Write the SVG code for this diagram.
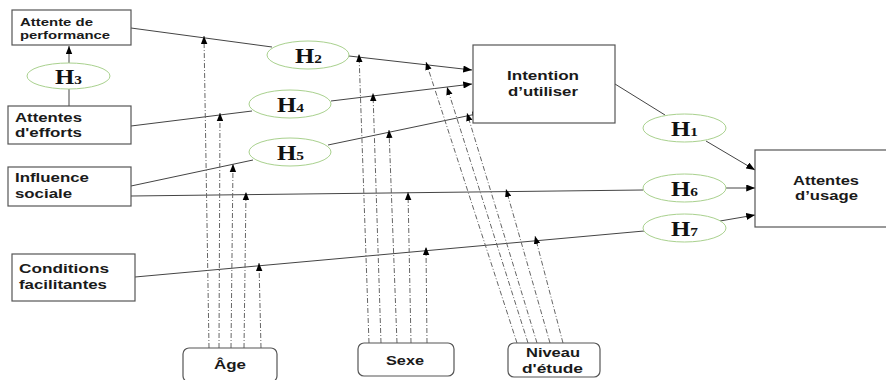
<svg xmlns="http://www.w3.org/2000/svg" width="886" height="380" viewBox="0 0 886 380">
<defs>
<marker id="ah" viewBox="0 0 10 8" refX="10" refY="4" markerWidth="9" markerHeight="7" markerUnits="userSpaceOnUse" orient="auto">
<path d="M0,0 L10,4 L0,8 z" fill="#000"/>
</marker>
<marker id="am" viewBox="0 0 10 8" refX="10" refY="4" markerWidth="8" markerHeight="7" markerUnits="userSpaceOnUse" orient="auto">
<path d="M0,0 L10,4 L0,8 z" fill="#000"/>
</marker>
</defs>
<style>
.box{fill:#fff;stroke:#555;stroke-width:1.2}
.hyp{fill:#fff;stroke:#a9d18e;stroke-width:1}
.lbl{font-family:"Liberation Sans",Arial,sans-serif;font-weight:bold;font-size:12.5px;fill:#1a1a1a}
.sm{font-size:11px}
.h{font-family:"Liberation Serif","Times New Roman",serif;font-weight:bold;font-size:21px;fill:#111}
.hs{font-size:13px}
.ln{fill:none;stroke:#444;stroke-width:1}
.mod{fill:none;stroke:#666;stroke-width:1;stroke-dasharray:5,2,1,2}
</style>
<rect width="886" height="380" fill="#fff"/>

<g id="connectors">
<line class="ln" x1="131" y1="28" x2="272" y2="47"/>
<line class="ln" x1="349" y1="56" x2="472" y2="70" marker-end="url(#ah)"/>
<line class="ln" x1="131" y1="126" x2="252" y2="111"/>
<line class="ln" x1="331" y1="101" x2="472" y2="84" marker-end="url(#ah)"/>
<line class="ln" x1="131" y1="186" x2="253" y2="160"/>
<line class="ln" x1="328" y1="145" x2="481" y2="113" marker-end="url(#ah)"/>
<line class="ln" x1="131" y1="196" x2="643" y2="190"/>
<line class="ln" x1="726" y1="188" x2="755" y2="188" marker-end="url(#ah)"/>
<line class="ln" x1="135" y1="277" x2="644" y2="231"/>
<line class="ln" x1="720" y1="221" x2="755" y2="215" marker-end="url(#ah)"/>
<line class="ln" x1="615" y1="84" x2="665" y2="115"/>
<line class="ln" x1="706" y1="141" x2="755" y2="170" marker-end="url(#ah)"/>
<line class="ln" x1="69" y1="106" x2="69" y2="89"/>
<line class="ln" x1="69" y1="63" x2="69" y2="46" marker-end="url(#am)"/>

<line class="mod" x1="209" y1="348" x2="204" y2="36" marker-end="url(#am)"/>
<line class="mod" x1="219" y1="348" x2="220" y2="113" marker-end="url(#am)"/>
<line class="mod" x1="231" y1="348" x2="233" y2="164" marker-end="url(#am)"/>
<line class="mod" x1="244" y1="348" x2="246" y2="192" marker-end="url(#am)"/>
<line class="mod" x1="261" y1="348" x2="259" y2="263" marker-end="url(#am)"/>

<line class="mod" x1="369" y1="343" x2="359" y2="54" marker-end="url(#am)"/>
<line class="mod" x1="381" y1="343" x2="373" y2="93" marker-end="url(#am)"/>
<line class="mod" x1="397" y1="343" x2="389" y2="130" marker-end="url(#am)"/>
<line class="mod" x1="411" y1="343" x2="408" y2="192" marker-end="url(#am)"/>
<line class="mod" x1="427" y1="343" x2="426" y2="247" marker-end="url(#am)"/>

<line class="mod" x1="517" y1="343" x2="426" y2="62" marker-end="url(#am)"/>
<line class="mod" x1="528" y1="343" x2="447" y2="87" marker-end="url(#am)"/>
<line class="mod" x1="537" y1="343" x2="467" y2="113" marker-end="url(#am)"/>
<line class="mod" x1="550" y1="343" x2="506" y2="189" marker-end="url(#am)"/>
<line class="mod" x1="563" y1="343" x2="535" y2="236" marker-end="url(#am)"/>
</g>

<g id="n-performance">
<rect class="box" x="12" y="10" width="119" height="35"/>
<text class="lbl sm" x="20" y="26" textLength="73" lengthAdjust="spacingAndGlyphs">Attente de</text>
<text class="lbl sm" x="20" y="39" textLength="90" lengthAdjust="spacingAndGlyphs">performance</text>
</g>
<g id="n-efforts">
<rect class="box" x="8" y="106" width="123" height="38"/>
<text class="lbl" x="15" y="122" textLength="67" lengthAdjust="spacingAndGlyphs">Attentes</text>
<text class="lbl" x="15" y="137" textLength="67" lengthAdjust="spacingAndGlyphs">d'efforts</text>
</g>
<g id="n-influence">
<rect class="box" x="8" y="167" width="123" height="39"/>
<text class="lbl" x="15" y="182" textLength="74" lengthAdjust="spacingAndGlyphs">Influence</text>
<text class="lbl" x="15" y="198" textLength="57" lengthAdjust="spacingAndGlyphs">sociale</text>
</g>
<g id="n-conditions">
<rect class="box" x="12" y="254" width="123" height="47"/>
<text class="lbl" x="19" y="273" textLength="90" lengthAdjust="spacingAndGlyphs">Conditions</text>
<text class="lbl" x="19" y="289" textLength="88" lengthAdjust="spacingAndGlyphs">facilitantes</text>
</g>
<g id="n-intention">
<rect class="box" x="473" y="45" width="142" height="78"/>
<text class="lbl" x="507" y="80" textLength="72" lengthAdjust="spacingAndGlyphs">Intention</text>
<text class="lbl" x="508" y="96" textLength="70" lengthAdjust="spacingAndGlyphs">d’utiliser</text>
</g>
<g id="n-usage">
<rect class="box" x="755" y="150" width="135" height="77"/>
<text class="lbl" x="793" y="185" textLength="66" lengthAdjust="spacingAndGlyphs">Attentes</text>
<text class="lbl" x="795" y="200" textLength="63" lengthAdjust="spacingAndGlyphs">d’usage</text>
</g>
<g id="n-age">
<rect class="box" x="183" y="348" width="94" height="34" rx="6"/>
<text class="lbl" x="214" y="369" textLength="32" lengthAdjust="spacingAndGlyphs">Âge</text>
</g>
<g id="n-sexe">
<rect class="box" x="358" y="343" width="96" height="33" rx="6"/>
<text class="lbl" x="386" y="365" textLength="38" lengthAdjust="spacingAndGlyphs">Sexe</text>
</g>
<g id="n-niveau">
<rect class="box" x="508" y="343" width="92" height="34" rx="6"/>
<text class="lbl" x="526" y="357" textLength="54" lengthAdjust="spacingAndGlyphs">Niveau</text>
<text class="lbl" x="522" y="373" textLength="61" lengthAdjust="spacingAndGlyphs">d'étude</text>
</g>

<g id="h3"><ellipse class="hyp" cx="68.5" cy="76" rx="41.5" ry="13"/><text class="h" x="55" y="84" textLength="27" lengthAdjust="spacingAndGlyphs">H<tspan class="hs">3</tspan></text></g>
<g id="h2"><ellipse class="hyp" cx="308" cy="55" rx="41" ry="14"/><text class="h" x="295" y="63" textLength="27" lengthAdjust="spacingAndGlyphs">H<tspan class="hs">2</tspan></text></g>
<g id="h4"><ellipse class="hyp" cx="290" cy="104" rx="41" ry="14"/><text class="h" x="277" y="112" textLength="27" lengthAdjust="spacingAndGlyphs">H<tspan class="hs">4</tspan></text></g>
<g id="h5"><ellipse class="hyp" cx="290" cy="152" rx="41" ry="14"/><text class="h" x="277" y="160" textLength="27" lengthAdjust="spacingAndGlyphs">H<tspan class="hs">5</tspan></text></g>
<g id="h1"><ellipse class="hyp" cx="684.5" cy="128" rx="41.5" ry="14"/><text class="h" x="671" y="136" textLength="27" lengthAdjust="spacingAndGlyphs">H<tspan class="hs">1</tspan></text></g>
<g id="h6"><ellipse class="hyp" cx="684.5" cy="188" rx="41.5" ry="14"/><text class="h" x="671" y="196" textLength="27" lengthAdjust="spacingAndGlyphs">H<tspan class="hs">6</tspan></text></g>
<g id="h7"><ellipse class="hyp" cx="684.5" cy="228" rx="41.5" ry="14"/><text class="h" x="671" y="236" textLength="27" lengthAdjust="spacingAndGlyphs">H<tspan class="hs">7</tspan></text></g>
</svg>
